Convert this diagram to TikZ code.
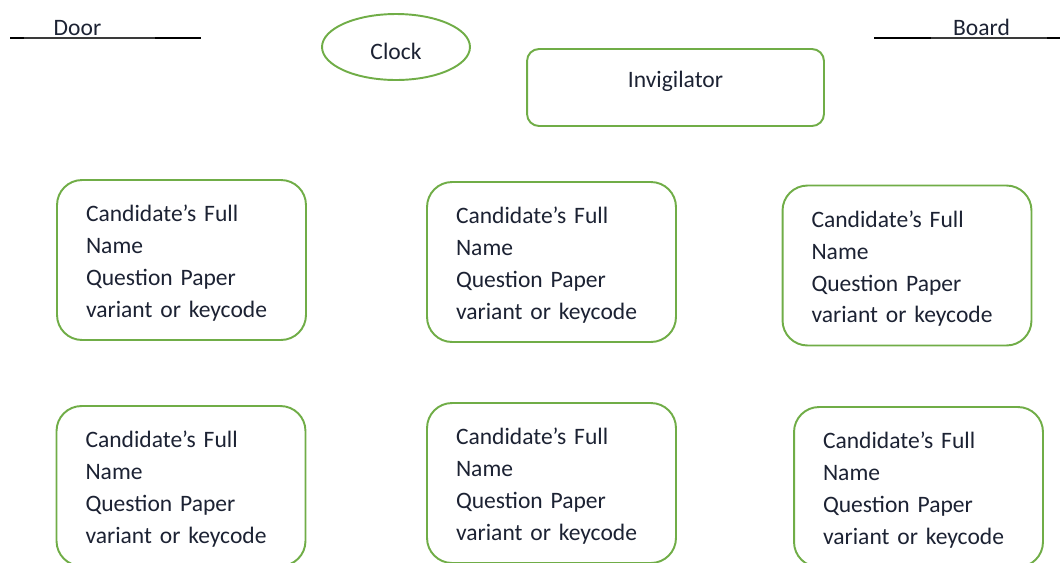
\documentclass[tikz,border=0pt]{standalone}
\usepackage{fontspec}
\setmainfont{Carlito}
\usepackage{tikz}
\usetikzlibrary{shapes.geometric}
\definecolor{seatgreen}{HTML}{70AD47}
\definecolor{inkdark}{HTML}{1C2233}
\definecolor{wallgrey}{HTML}{3A3A3A}
\tikzset{
  seat/.style={rounded corners=0.5cm, draw=seatgreen, line width=1.1pt,
               fill=white, align=left, text width=3.82cm, inner xsep=0.58cm,
               inner ysep=0pt, minimum height=3.2cm, text=inkdark,
               font=\fontsize{13.4}{18.2}\selectfont,
               execute at begin node={\rule{0pt}{13pt}}},
  wallthick/.style={line width=1.7pt, draw=black},
  wallthin/.style={line width=0.8pt, draw=wallgrey},
  sign/.style={font=\fontsize{13.4}{15}\selectfont, text=inkdark,
               inner sep=0pt, anchor=base},
}

\begin{document}
\begin{tikzpicture}[x=0.02cm, y=-0.02cm]
\useasboundingbox (0,0) rectangle (1060,562);

% ---------------- door and board -----------------------------------------
\node[sign] (door) at (77.5,35) {Door};
\draw[wallthick] (10,38) -- (24,38);
\draw[wallthin] (24,38) -- (155,38);
\draw[wallthick] (155,38) -- (201,38);

\node[sign] (board) at (981.5,35) {Board};
\draw[wallthick] (874,38) -- (931,38);
\draw[wallthin] (931,38) -- (1047,38);
\draw[wallthick] (1047,38) -- (1060,38);

% ---------------- clock and invigilator ----------------------------------
\node[ellipse, draw=seatgreen, line width=1.1pt, minimum width=2.96cm,
      minimum height=1.32cm, inner sep=0pt, text=inkdark,
      font=\fontsize{13.4}{15}\selectfont, text height=0.48cm, text depth=0pt]
   (clock) at (396,47) {Clock};

\node[rounded corners=0.24cm, draw=seatgreen, line width=1.1pt,
      minimum width=5.94cm, minimum height=1.54cm, inner sep=0pt,
      text=inkdark, font=\fontsize{13.4}{15}\selectfont,
      text height=0.35cm, text depth=0.35cm]
   (invig) at (675.5,87.5) {Invigilator};

% ---------------- candidate desks ----------------------------------------
\foreach \name/\xx/\yy in {deskA/181.5/260, deskB/551.5/262, deskC/907/265.5,
                          deskD/181/486, deskE/551.5/483, deskF/918.5/487}{
  \node[seat] (\name) at (\xx,\yy)
     {Candidate’s Full\\Name\\Question Paper\\variant or keycode};
}
\end{tikzpicture}
\end{document}
